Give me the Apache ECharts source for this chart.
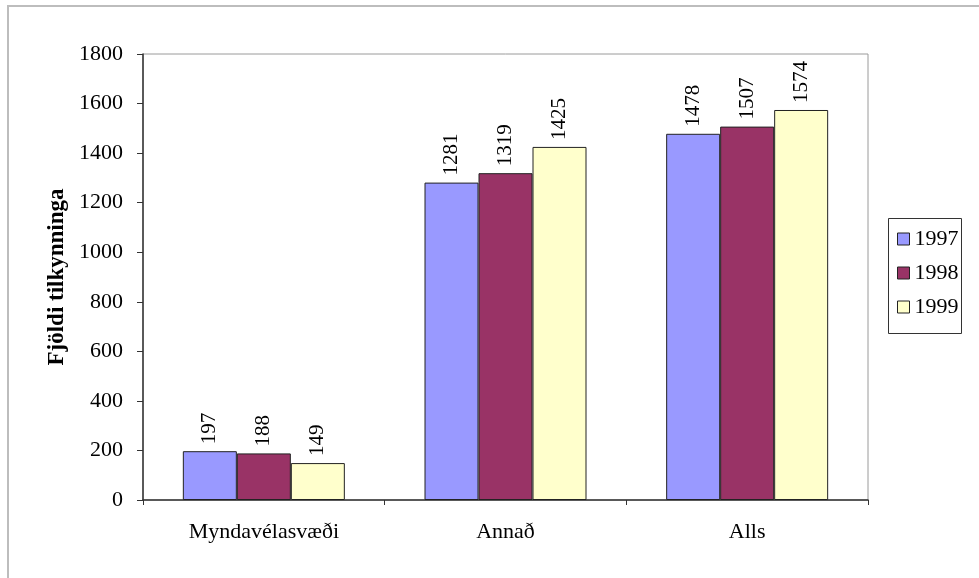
<!DOCTYPE html>
<html>
<head>
<meta charset="utf-8">
<script src="https://cdn.jsdelivr.net/npm/echarts@6/dist/echarts.min.js"></script>
<style>
html,body{margin:0;padding:0;background:#fff;}
#chart{width:979px;height:578px;}
</style>
</head>
<body>
<div id="chart"></div>
<script>
const categories = ['Myndavélasvæði', 'Annað', 'Alls'];
const seriesNames = ['1997', '1998', '1999'];
const values1997 = [197, 1281, 1478];
const values1998 = [188, 1319, 1507];
const values1999 = [149, 1425, 1574];
const yTicks = [0, 200, 400, 600, 800, 1000, 1200, 1400, 1600, 1800];
const colors = ['#9999FF', '#993366', '#FFFFCC'];

const serif = '"Liberation Serif", "DejaVu Serif", serif';
const chart = echarts.init(document.getElementById('chart'), null, {renderer: 'canvas'});

const dataSets = [values1997, values1998, values1999];
const series = seriesNames.map((name, i) => ({
  name: name,
  type: 'bar',
  data: dataSets[i],
  barWidth: 54,
  barGap: '0%',
  itemStyle: {color: colors[i], borderColor: '#222', borderWidth: 1},
  label: {
    show: true,
    position: 'top',
    rotate: 90,
    align: 'left',
    verticalAlign: 'middle',
    distance: 9,
    offset: [-2, 0],
    fontFamily: serif,
    fontSize: 21,
    color: '#000'
  }
}));

chart.setOption({
  animation: false,
  backgroundColor: '#fff',
  graphic: [{
    type: 'rect',
    shape: {x: 8, y: 6, width: 1200, height: 1200},
    style: {fill: 'none', stroke: '#bdbdbd', lineWidth: 2},
    silent: true
  }, {
    type: 'rect',
    shape: {x: 888.5, y: 218.5, width: 73, height: 115},
    style: {fill: 'none', stroke: '#333', lineWidth: 1},
    silent: true
  }],
  grid: {
    left: 143, right: 111, top: 54, bottom: 78,
    show: true, borderColor: '#9a9a9a', borderWidth: 1, backgroundColor: 'transparent'
  },
  legend: {
    orient: 'vertical',
    left: 888, top: 218,
    data: seriesNames,
    icon: 'rect',
    itemWidth: 12, itemHeight: 12,
    itemGap: 12,
    padding: [10, 0, 17, 9],
    itemStyle: {borderColor: '#222', borderWidth: 1},
    textStyle: {fontFamily: serif, fontSize: 22, color: '#000', lineHeight: 21}
  },
  xAxis: {
    type: 'category',
    data: categories,
    axisLine: {lineStyle: {color: '#333', width: 1.5}},
    axisTick: {show: true, length: 5, inside: false, lineStyle: {color: '#333'}},
    axisLabel: {fontFamily: serif, fontSize: 22, color: '#000', margin: 21}
  },
  yAxis: {
    type: 'value',
    min: yTicks[0], max: yTicks[yTicks.length - 1], interval: 200,
    name: 'Fjöldi tilkynninga',
    nameLocation: 'middle',
    nameGap: 74,
    nameTextStyle: {fontFamily: serif, fontSize: 23, fontWeight: 'bold', color: '#000'},
    axisLine: {show: true, lineStyle: {color: '#333', width: 1.5}},
    axisTick: {show: true, length: 6, inside: false, lineStyle: {color: '#333'}},
    splitLine: {show: false},
    axisLabel: {fontFamily: serif, fontSize: 22, color: '#000', margin: 20,
      formatter: function (v) { return String(v); }}
  },
  series: series
});
</script>
</body>
</html>
